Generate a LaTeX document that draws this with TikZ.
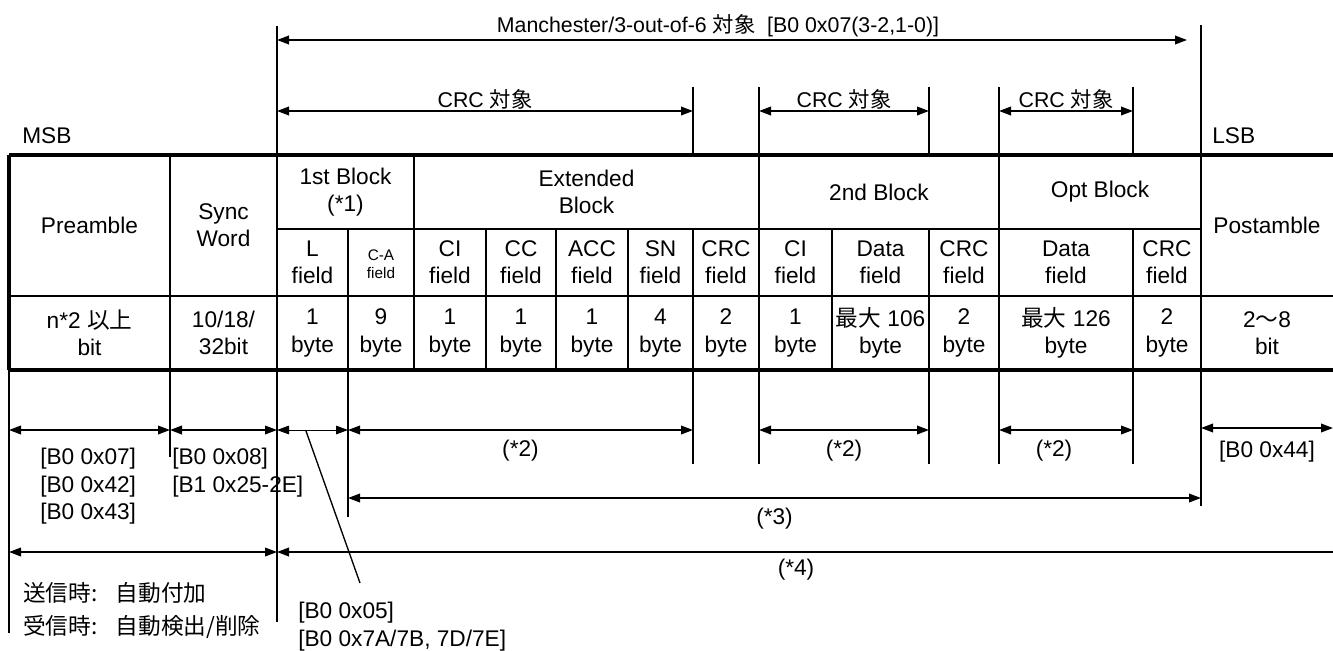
\documentclass[tikz,border=0pt]{standalone}
\usepackage{fontspec}
\setmainfont{Liberation Sans}
\newfontfamily\jp{Noto Sans CJK JP}
\usetikzlibrary{arrows.meta, positioning}

\begin{document}
\begin{tikzpicture}[
        x = 0.75pt, y = -0.75pt,
        font = \fontsize{17}{20.5}\selectfont,
        frame/.style = {line width=2.8pt},
        major/.style = {line width=2.2pt},
        minor/.style = {line width=1pt},
        dim/.style   = {line width=1.1pt,
                        {Triangle[length=9pt,width=6.5pt]}-{Triangle[length=9pt,width=6.5pt]}},
        diml/.style  = {line width=1.1pt, {Triangle[length=9pt,width=6.5pt]}-},
        cell/.style  = {align=center, inner sep=0pt},
        small/.style = {cell, font=\fontsize{11.5}{13.5}\selectfont},
        tag/.style   = {inner sep=0pt, anchor=base},
        note/.style  = {align=left, inner sep=0pt, anchor=north west}
    ]
        \useasboundingbox (0,0) rectangle (1333,650);

        % 表の罫線
        \draw[frame] (9,155) -- (1333,155);
        \draw[frame] (9,370) -- (1333,370);
        \draw[frame] (9,155) -- (9,370);
        \draw[minor] (277,229) -- (1201,229);
        \draw[minor] (9,296) -- (1333,296);
        \draw[major] (170,155) -- (170,370)   (277,155) -- (277,370)
                     (414,155) -- (414,370)   (759,155) -- (759,370)
                     (999,155) -- (999,370)   (1201,155) -- (1201,370);
        \draw[minor] (348,229) -- (348,370)   (486,229) -- (486,370)
                     (556,229) -- (556,370)   (628,229) -- (628,370)
                     (693,229) -- (693,370)   (832,229) -- (832,370)
                     (929,229) -- (929,370)   (1133,229) -- (1133,370);

        % 補助線
        \draw[minor] (277,26) -- (277,155)    (1201,25) -- (1201,155)
                     (693,87) -- (693,155)    (759,87) -- (759,155)
                     (929,87) -- (929,155)    (999,87) -- (999,155)
                     (1133,87) -- (1133,155);
        \draw[minor] (9,370) -- (9,633)       (170,370) -- (170,457)
                     (277,370) -- (277,622)   (348,370) -- (348,517)
                     (693,370) -- (693,464)   (759,370) -- (759,464)
                     (929,370) -- (929,464)   (999,370) -- (999,464)
                     (1133,370) -- (1133,464) (1201,370) -- (1201,506);

        % ノード
        \node[tag, anchor=base west] (msb) at (22,143) {MSB};
        \node[tag, anchor=base west] (lsb) at (1212,143) {LSB};

        \node[cell] (pream)  at (89.5,225)  {Preamble};
        \node[cell] (sync)   at (223.5,225) {Sync\\Word};
        \node[cell] (blk1)   at (345.5,192) {1st Block\\(*1)};
        \node[cell] (ext)    at (586.5,192) {Extended\\Block};
        \node[cell] (blk2)   at (879,192)   {2nd Block};
        \node[cell] (optb)   at (1100,192)  {Opt Block};
        \node[cell] (postam) at (1267,225)  {Postamble};

        \node[cell]  (lf)    at (312.5,262) {L\\field};
        \node[small] (caf)   at (381,264)   {C-A\\field};
        \node[cell]  (cif)   at (450,262)   {CI\\field};
        \node[cell]  (ccf)   at (521,262)   {CC\\field};
        \node[cell]  (accf)  at (592,262)   {ACC\\field};
        \node[cell]  (snf)   at (660.5,262) {SN\\field};
        \node[cell]  (ecrcf) at (726,262)   {CRC\\field};
        \node[cell]  (ci2f)  at (795.5,262) {CI\\field};
        \node[cell]  (d2f)   at (880.5,262) {Data\\field};
        \node[cell]  (crc2f) at (964,262)   {CRC\\field};
        \node[cell]  (d3f)   at (1066,262)  {Data\\field};
        \node[cell]  (crc3f) at (1167,262)  {CRC\\field};

        \node[cell] (prelen)  at (89.5,333)  {n*2 {\jp 以上}\\bit};
        \node[cell] (synclen) at (223.5,333) {10/18/\\32bit};
        \node[cell] (llen)    at (312.5,333) {1\\byte};
        \node[cell] (calen)   at (381,333)   {9\\byte};
        \node[cell] (cilen)   at (450,333)   {1\\byte};
        \node[cell] (cclen)   at (521,333)   {1\\byte};
        \node[cell] (acclen)  at (592,333)   {1\\byte};
        \node[cell] (snlen)   at (660.5,333) {4\\byte};
        \node[cell] (ecrclen) at (726,333)   {2\\byte};
        \node[cell] (ci2len)  at (795.5,333) {1\\byte};
        \node[cell] (d2len)   at (880.5,333) {{\jp 最大} 106\\byte};
        \node[cell] (crc2len) at (964,333)   {2\\byte};
        \node[cell] (d3len)   at (1066,333)  {{\jp 最大} 126\\byte};
        \node[cell] (crc3len) at (1167,333)  {2\\byte};
        \node[cell] (postlen) at (1267,333)  {2{\jp 〜}8\\bit};

        % 矢印（上）
        \node[tag, font=\fontsize{16}{20}\selectfont] (manch) at (718,32)
            {Manchester/3-out-of-6 {\jp 対象}\ \ [B0 0x07(3-2,1-0)]};
        \draw[dim] (277,40) -- (1187,40);
        \draw[dim] (277,111) -- node[tag, yshift=3pt, font=\fontsize{16}{20}\selectfont] (crca) {CRC {\jp 対象}} (693,111);
        \draw[dim] (759,111) -- node[tag, yshift=3pt, font=\fontsize{16}{20}\selectfont] (crcb) {CRC {\jp 対象}} (929,111);
        \draw[dim] (999,111) -- node[tag, yshift=3pt, font=\fontsize{16}{20}\selectfont] (crcc) {CRC {\jp 対象}} (1133,111);

        % 矢印（下）
        \draw[dim] (9,430) -- (170,430);
        \draw[dim] (170,430) -- (277,430);
        \draw[dim, line width=0.6pt] (277,430) -- (348,430);
        \draw[dim] (348,430) -- node[tag, yshift=-19.5pt] (n2a) {(*2)} (693,430);
        \draw[dim] (759,430) -- node[tag, yshift=-19.5pt] (n2b) {(*2)} (929,430);
        \draw[dim] (999,430) -- node[tag, yshift=-19.5pt, xshift=-9pt] (n2c) {(*2)} (1133,430);
        \draw[dim] (1201,428) -- node[tag, yshift=-22pt] (b044) {[B0 0x44]} (1333,428);
        \draw[dim] (348,498) -- node[tag, yshift=-20pt] (n3) {(*3)} (1201,498);
        \draw[dim] (9,552) -- (277,552);
        \draw[diml] (277,552) -- (1333,552);
        \node[tag] (n4) at (796,575) {(*4)};

        % 注記
        \node[note] (pretag)  at (40,448)  {[B0 0x07]\\{}[B0 0x42]\\{}[B0 0x43]};
        \node[note] (synctag) at (172,448) {[B0 0x08]\\{}[B1 0x25-2E]};
        \node[note, font=\jp\fontsize{17}{25}\selectfont] (auto) at (23,582)
            {送信時:\hspace{0.8em}自動付加\\受信時:\hspace{0.8em}自動検出/削除};
        \node[note, font=\fontsize{17}{20.5}\selectfont] (ltag) at (298,602)
            {[B0 0x05]\\{}[B0 0x7A/7B, 7D/7E]};
        \coordinate (lead) at (306,431);
        \draw[minor] (lead) -- (360,583);
    \end{tikzpicture}
\end{document}
